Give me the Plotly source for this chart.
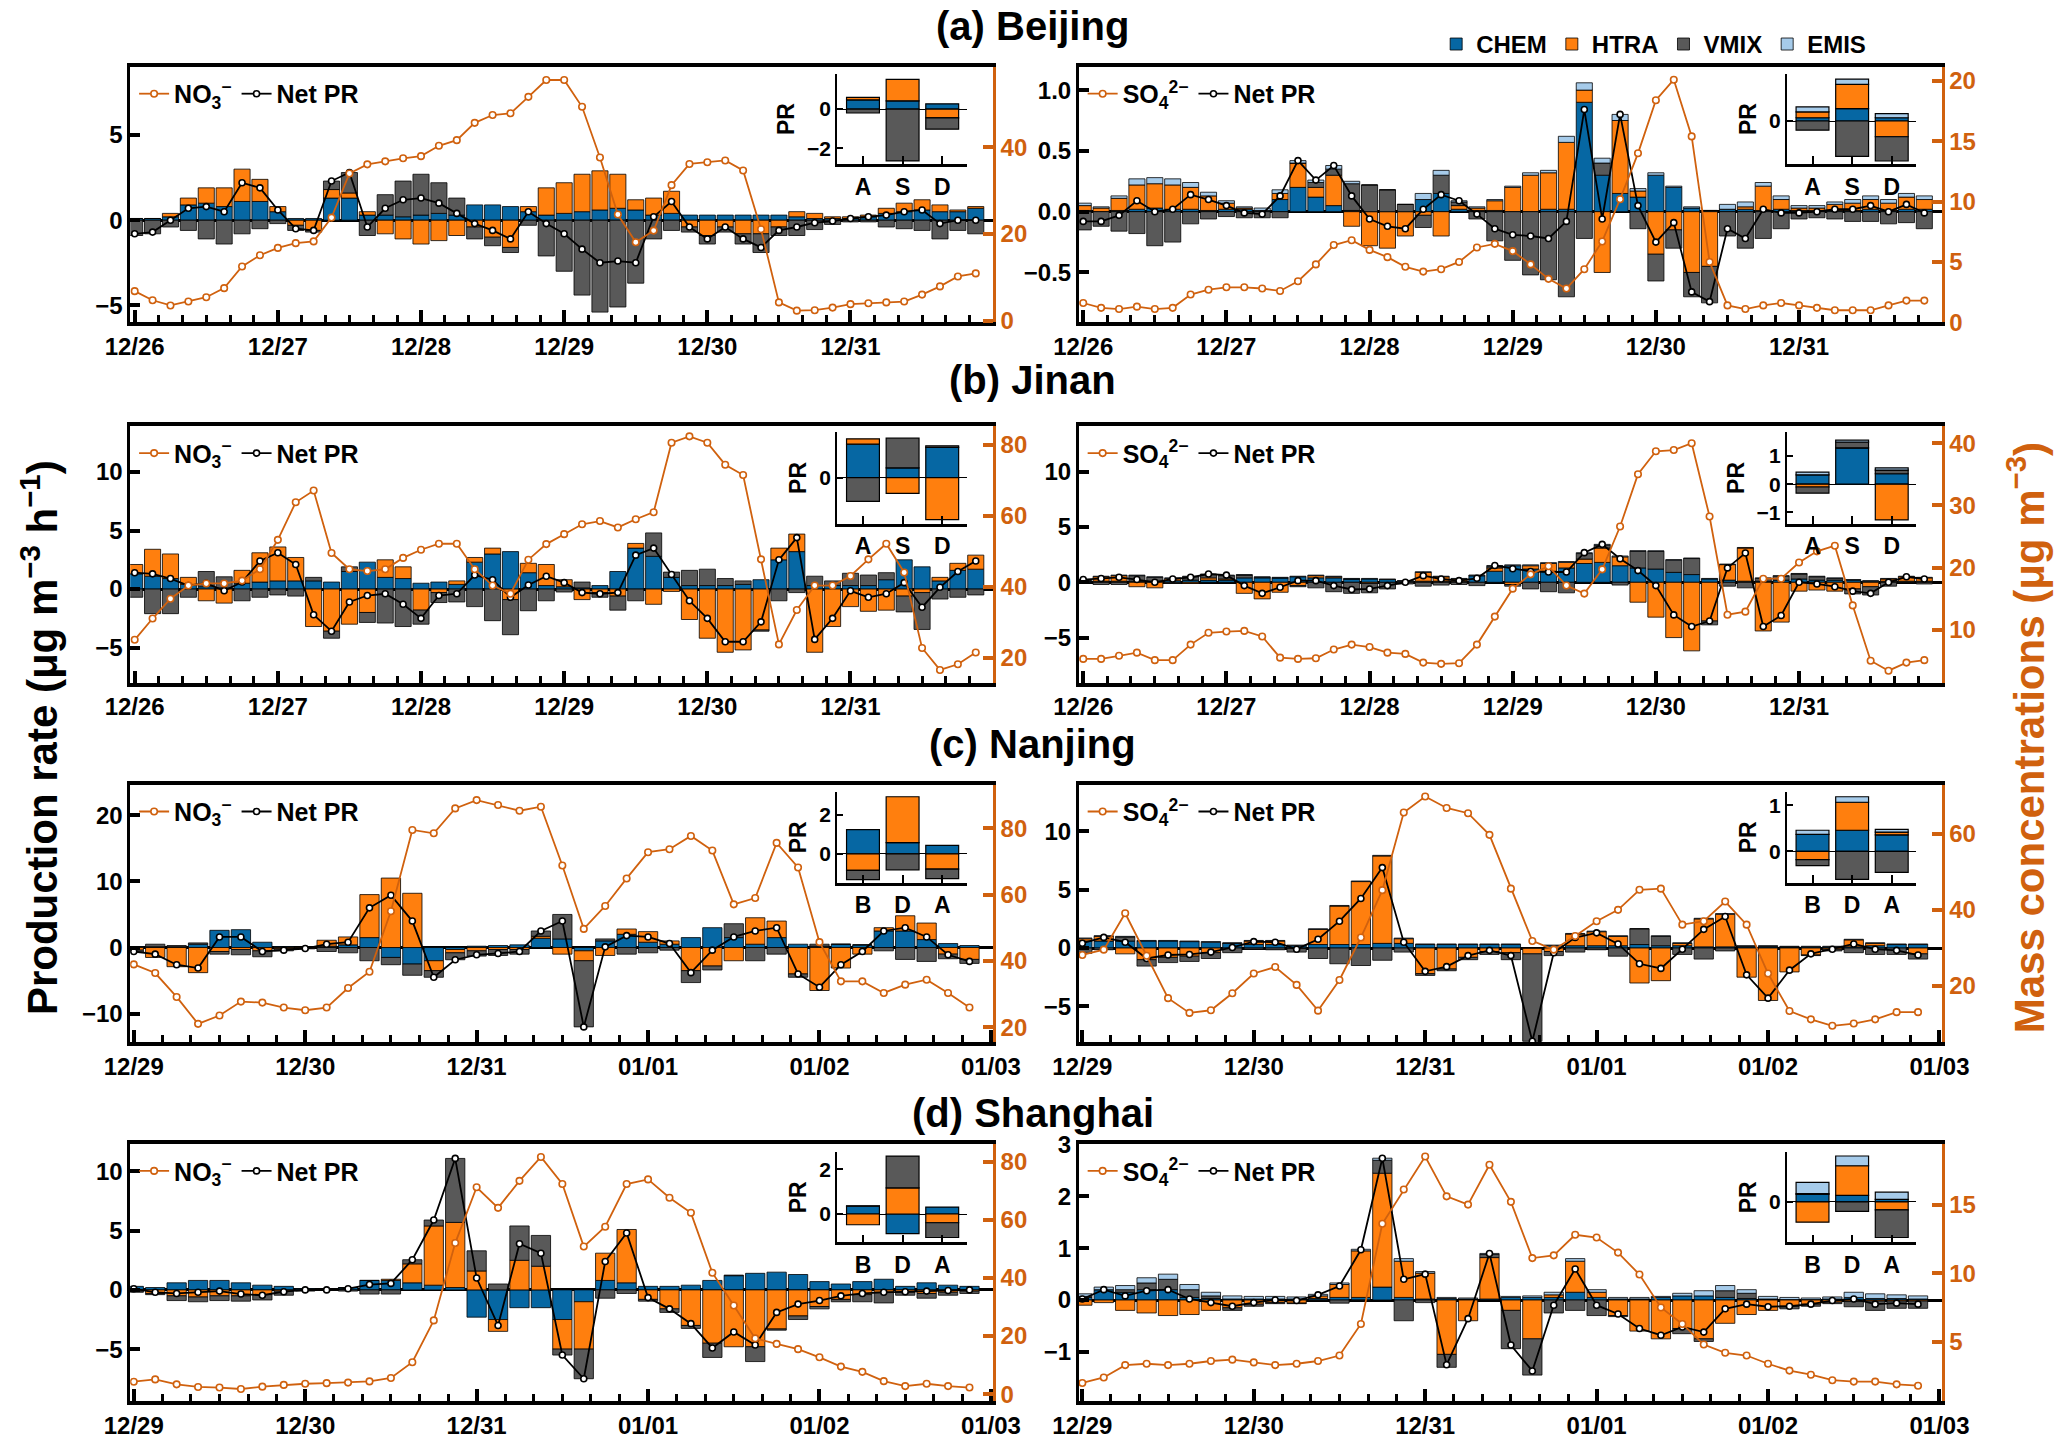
import numpy as np
import pandas as pd
import plotly.graph_objects as go

FONT = "Liberation Sans"
C_CHEM = "#0667a3"
C_HTRA = "#ff7f0e"
C_VMIX = "#595959"
C_EMIS = "#a6cbea"
C_CONC = "#d0610e"

HOUR = 3600 * 1000
W, H = 2067, 1441

# 3-hourly samples
t_bj = pd.date_range("2016-12-26", periods=48, freq="3h")
t_nj = pd.date_range("2016-12-29", periods=40, freq="3h")

NO3 = "NO<sub>3</sub><sup>−</sup>"
SO4 = "SO<sub>4</sub><sup>2−</sup>"

# ---------------- (a) Beijing ----------------
bj_no3_chem = [0.1, 0.1, 0.2, 0.9, 1.0, 0.8, 1.1, 1.1, 0.5, 0.1,
               0.1, 1.3, 1.3, 0.3, 0.3, 0.2, 0.3, 0.4, 0.3, 0.9,
               0.9, 0.8, 0.5, 0.3, 0.4, 0.5, 0.6, 0.7, 0.6, 0.3,
               0.4, 0.3, 0.3, 0.3, 0.3, 0.3, 0.3, 0.2, 0.1, 0.1,
               0.1, 0.2, 0.4, 0.5, 0.6, 0.5, 0.5, 0.7]
bj_no3_htra = [0.0, 0.0, 0.2, 0.4, 0.9, 1.1, 1.9, 1.3, 0.3, -0.3,
               -0.6, 0.5, 0.3, 0.2, -0.8, -1.1, -1.4, -1.2, -0.9, -0.4,
               -1.0, -1.6, 0.3, 1.6, 1.8, 2.2, 2.3, 2.0, 0.6, 1.0,
               1.3, -0.4, -0.9, -0.4, -0.8, -0.8, -0.4, 0.3, 0.3, 0.1,
               0.1, 0.1, 0.3, 0.5, 0.6, 0.4, 0.1, 0.1]
bj_no3_vmix = [-0.9, -0.8, -0.4, -0.6, -1.1, -1.4, -0.8, -0.5, -0.2, -0.3,
               -0.1, 0.5, 1.2, -0.9, 1.2, 2.1, 2.4, 1.8, 1.0, -0.7,
               -0.5, -0.3, -0.3, -2.1, -3.0, -4.4, -5.4, -5.1, -3.7, -1.1,
               -0.6, -0.3, -0.5, -0.3, -0.6, -1.1, -0.5, -0.9, -0.55, -0.25,
               -0.1, -0.1, -0.4, -0.5, -0.6, -1.1, -0.6, -0.8]
bj_no3_conc = [6.8, 4.7, 3.5, 4.4, 5.4, 7.5, 12.5, 15.1, 16.8, 17.9,
               18.3, 23.8, 34.0, 36.1, 36.8, 37.5, 38.0, 40.4, 41.7, 45.7,
               47.5, 47.9, 51.7, 55.6, 55.6, 49.4, 37.7, 24.5, 18.1, 20.8,
               31.3, 36.2, 36.6, 37.0, 34.7, 21.1, 4.2, 2.3, 2.4, 3.0,
               3.8, 4.0, 4.2, 4.4, 6.0, 7.9, 10.2, 10.9]

bj_so4_chem = [0.01, 0.0, 0.01, 0.02, 0.03, 0.02, 0.02, 0.01, 0.02, 0.02,
               0.01, 0.1, 0.2, 0.12, 0.05, 0.01, 0.0, 0.0, 0.0, 0.1,
               0.15, 0.02, 0.01, 0.01, 0.0, 0.0, 0.02, 0.02, 0.9, 0.3,
               0.15, 0.12, 0.3, 0.2, 0.03, 0.01, 0.02, 0.02, 0.01, 0.02,
               0.01, 0.01, 0.01, 0.01, 0.02, 0.01, 0.02, 0.02]
bj_so4_htra = [0.04, 0.03, 0.1, 0.2, 0.2, 0.2, 0.18, 0.12, 0.05, 0.01,
               0.0, 0.05, 0.2, 0.08, 0.25, -0.12, -0.28, -0.3, -0.2, -0.03,
               -0.2, 0.03, 0.02, 0.08, 0.2, 0.3, 0.3, 0.55, 0.1, -0.5,
               0.6, 0.05, -0.35, -0.15, -0.5, -0.45, 0.0, 0.02, 0.2, 0.08,
               0.02, 0.02, 0.05, 0.06, 0.08, 0.06, 0.1, 0.08]
bj_so4_vmix = [-0.15, -0.12, -0.16, -0.18, -0.28, -0.25, -0.1, -0.06, -0.04, -0.05,
               -0.05, -0.05, 0.0, 0.04, 0.05, 0.22, 0.22, 0.18, 0.06, -0.1,
               0.15, 0.03, -0.06, -0.24, -0.4, -0.52, -0.56, -0.7, -0.22, 0.1,
               0.0, -0.14, -0.22, -0.15, -0.2, -0.3, -0.2, -0.3, -0.22, -0.14,
               -0.06, -0.05, -0.06, -0.08, -0.08, -0.1, -0.09, -0.14]
bj_so4_emis = [0.02, 0.01, 0.02, 0.05, 0.05, 0.05, 0.04, 0.03, 0.02, 0.01,
               0.02, 0.03, 0.02, 0.02, 0.03, 0.02, 0.0, 0.0, 0.0, 0.05,
               0.04, 0.01, 0.01, 0.01, 0.01, 0.02, 0.02, 0.05, 0.06, 0.04,
               0.05, 0.02, 0.02, 0.01, 0.01, 0.0, 0.04, 0.04, 0.03, 0.03,
               0.02, 0.02, 0.02, 0.03, 0.03, 0.03, 0.03, 0.03]
bj_so4_conc = [1.6, 1.2, 1.1, 1.3, 1.1, 1.2, 2.3, 2.7, 2.9, 2.9,
               2.8, 2.6, 3.4, 4.8, 6.4, 6.8, 6.0, 5.4, 4.6, 4.2,
               4.4, 5.0, 6.2, 6.5, 5.9, 4.8, 3.6, 2.8, 4.4, 6.7,
               10.2, 14.0, 18.4, 20.1, 15.4, 5.0, 1.4, 1.1, 1.4, 1.6,
               1.4, 1.2, 1.0, 1.0, 1.0, 1.4, 1.8, 1.8]

# ---------------- (b) Jinan ----------------
jn_no3_chem = [1.3, 1.1, 0.9, 0.4, 0.2, 0.1, 0.5, 0.6, 0.7, 0.7,
               0.7, 0.6, 1.5, 2.3, 1.0, 0.9, 0.5, 0.6, 0.4, 2.3,
               3.0, 3.2, 1.4, 0.3, 0.2, 0.1, 0.3, 1.5, 3.5, 2.8,
               1.0, 0.3, 0.3, 0.3, 0.4, 0.8, 2.5, 3.2, 0.3, 0.3,
               0.3, 0.3, 0.8, 2.5, 1.9, 0.7, 1.6, 1.7]
jn_no3_htra = [0.8, 2.3, 2.1, 0.6, -1.0, -1.2, 1.1, 2.5, 2.9, 2.0,
               -3.2, -3.6, -3.0, -2.0, 1.5, 1.0, -1.8, -0.3, 0.3, 0.4,
               0.5, -0.9, 0.8, 1.8, 0.6, -0.9, -0.3, -0.6, 0.4, -1.3,
               -0.2, -2.6, -4.2, -5.4, -5.2, -3.5, 1.0, 1.5, -5.4, -3.2,
               -1.5, -1.9, -1.8, -0.6, -0.3, 0.3, 0.6, 1.2]
jn_no3_vmix = [-0.7, -2.1, -2.1, -0.7, 1.3, 0.95, -1.0, -0.7, -0.5, -0.6,
               0.3, -0.6, 0.4, -0.85, -2.9, -3.2, -1.2, -0.85, -1.1, -1.5,
               -2.7, -3.0, -1.85, -1.0, -0.25, 0.5, -0.4, -1.2, -1.0, 2.0,
               0.45, 1.3, 1.4, 0.6, 0.3, -0.1, -1.0, -0.3, 0.8, 0.4,
               1.05, 0.9, 0.6, -1.35, -3.15, -0.85, -0.7, -0.5]
jn_no3_conc = [25.0, 31.0, 36.6, 40.3, 40.9, 40.9, 41.7, 44.9, 53.2, 63.8,
               67.1, 49.5, 44.9, 44.4, 44.9, 48.1, 50.4, 52.1, 52.1, 44.9,
               40.3, 38.0, 47.6, 52.0, 54.8, 57.6, 58.5, 56.7, 59.0, 61.0,
               80.6, 82.4, 80.6, 74.4, 71.5, 47.7, 23.7, 33.4, 40.3, 40.3,
               43.0, 47.7, 52.1, 44.0, 22.7, 16.5, 18.1, 21.4]

jn_so4_chem = [0.1, 0.1, 0.1, 0.1, 0.1, 0.15, 0.2, 0.2, 0.2, 0.4,
               0.4, 0.4, 0.5, 0.4, 0.4, 0.3, 0.3, 0.25, 0.1, 0.1,
               0.1, 0.1, 0.6, 1.0, 1.5, 1.2, 1.0, 1.3, 1.7, 1.8,
               1.5, 1.3, 1.2, 0.9, 0.7, 0.3, 0.2, 0.1, 0.1, 0.2,
               0.3, 0.2, 0.2, 0.2, 0.1, 0.1, 0.1, 0.1]
jn_so4_htra = [0.0, 0.4, 0.5, -0.4, -0.5, 0.2, -0.1, 0.2, 0.1, -1.0,
               -1.5, -0.9, -0.3, 0.2, 0.1, 0.0, -0.1, 0.0, 0.0, 0.8,
               0.4, 0.2, 0.0, 0.3, -0.2, 0.3, 0.7, 0.5, 0.4, 1.3,
               0.8, -1.8, -3.15, -5.0, -6.2, -3.5, 1.4, 3.0, -4.4, -3.6,
               -0.8, -0.7, -0.8, -0.6, -0.4, 0.2, 0.4, 0.3]
jn_so4_vmix = [0.1, -0.2, -0.2, 0.5, 0.35, -0.1, 0.3, 0.3, 0.3, 0.25,
               0.05, 0.0, -0.1, -0.5, -0.85, -1.0, -0.85, -0.6, -0.15, -0.35,
               -0.25, -0.2, -0.3, 0.15, -0.15, -0.6, -0.85, -0.95, 0.5, 0.25,
               -0.25, 1.5, 1.6, 1.1, 1.45, -0.35, -0.35, -0.5, 0.25, 0.35,
               0.45, 0.3, 0.15, -0.45, -0.75, -0.35, -0.05, -0.15]
jn_so4_emis = [0.05, 0.05, 0.05, 0.05, 0.05, 0.05, 0.05, 0.05, 0.05, 0.05,
               0.05, 0.05, 0.05, 0.05, 0.05, 0.05, 0.05, 0.05, 0.05, 0.05,
               0.05, 0.05, 0.06, 0.07, 0.08, 0.08, 0.08, 0.08, 0.08, 0.08,
               0.08, 0.06, 0.05, 0.05, 0.05, 0.05, 0.05, 0.05, 0.05, 0.05,
               0.05, 0.05, 0.05, 0.05, 0.05, 0.05, 0.05, 0.05]
jn_so4_conc = [5.3, 5.3, 5.8, 6.3, 5.1, 5.1, 7.6, 9.5, 9.7, 9.8,
               8.9, 5.5, 5.3, 5.4, 6.8, 7.6, 7.2, 6.3, 6.1, 4.7,
               4.5, 4.6, 7.6, 12.1, 16.6, 18.9, 20.2, 17.1, 15.8, 19.7,
               26.6, 35.0, 38.7, 38.9, 40.0, 28.2, 12.4, 12.9, 18.2, 18.2,
               20.8, 22.6, 23.5, 13.9, 5.0, 3.4, 4.7, 5.1]

# ---------------- (c) Nanjing ----------------
nj_no3_chem = [0.1, 0.1, 0.1, 0.5, 2.6, 2.7, 0.8, 0.1, 0.05, 0.2,
               0.4, 1.5, -1.5, -2.5, -2.0, -0.3, 0.2, 0.3, 0.4, 1.4,
               1.3, -0.5, 1.0, 2.0, 0.8, 0.5, 1.5, 3.0, 1.5, 0.5,
               1.5, 0.5, 0.2, 0.5, 0.4, 2.5, 2.5, 1.2, 0.6, 0.3]
nj_no3_htra = [-0.4, -1.5, -2.9, -3.8, -0.6, -0.3, -0.5, -0.2, -0.1, 0.9,
               1.2, 6.5, 10.5, 8.2, -1.5, -0.5, -0.5, -0.3, -0.3, 0.3,
               -1.0, -1.5, -1.2, 0.8, 1.6, 0.5, -3.5, -2.8, -2.0, 4.0,
               2.5, -4.0, -6.5, -3.1, -1.0, 0.5, 2.3, 2.5, -1.0, -1.8]
nj_no3_vmix = [-0.3, 0.4, 0.2, 0.2, -0.4, -0.8, -0.9, -0.3, -0.1, -0.6,
               -0.8, -2.0, -1.1, -1.7, -1.0, -1.05, -0.8, -0.9, -0.7, 0.8,
               3.7, -10.0, 0.3, -1.0, -0.8, -0.4, -1.8, -0.6, 2.1, -2.0,
               -1.0, -0.5, 0.3, 0.0, 0.0, -0.5, -1.8, -2.1, -0.7, -0.6]
nj_no3_conc = [39.0, 36.4, 29.2, 21.1, 23.6, 27.8, 27.5, 26.0, 25.2, 26.0,
               31.9, 36.8, 55.0, 79.5, 78.5, 86.0, 88.5, 87.0, 85.3, 86.5,
               68.8, 49.7, 56.6, 64.9, 72.8, 73.7, 77.7, 73.3, 57.1, 59.0,
               75.6, 68.2, 45.7, 33.9, 33.9, 30.4, 32.9, 34.4, 30.4, 26.0]

nj_so4_chem = [0.6, 0.6, 0.6, 0.6, 0.6, 0.55, 0.5, 0.4, 0.3, 0.3,
               0.2, 0.3, 0.3, 0.3, 0.4, 0.4, 0.3, 0.3, 0.3, 0.3,
               0.3, 0.0, 0.2, 0.2, 0.2, 0.2, 0.3, 0.2, 0.2, 0.1,
               0.1, 0.1, 0.1, 0.1, 0.1, 0.1, 0.1, 0.2, 0.3, 0.3]
nj_so4_htra = [0.2, 0.4, -0.5, -1.0, -0.8, -0.7, -0.4, 0.0, 0.3, 0.3,
               -0.05, 1.3, 3.3, 5.4, 7.5, 0.4, -2.2, -1.8, -0.8, -0.3,
               -0.4, -0.5, -0.3, 1.0, 1.2, 0.8, -3.0, -2.8, 0.2, 2.4,
               2.8, -2.5, -4.5, -2.05, -0.6, -0.1, 0.6, 0.2, 0.0, -0.5]
nj_so4_vmix = [-0.45, -0.15, 0.35, -0.55, -0.45, -0.45, -0.5, -0.4, -0.1, -0.15,
               -0.3, -0.9, -1.35, -1.5, -1.05, -0.35, -0.15, -0.15, -0.2, -0.25,
               -0.6, -7.5, -0.35, -0.35, -0.15, -0.7, 1.35, 0.8, -0.55, -0.95,
               -0.25, 0.05, 0.05, 0.0, -0.05, -0.15, -0.4, -0.55, -0.55, -0.45]
nj_so4_emis = [0.06, 0.06, 0.05, 0.05, 0.05, 0.05, 0.05, 0.05, 0.05, 0.05,
               0.05, 0.05, 0.05, 0.05, 0.05, 0.05, 0.05, 0.05, 0.05, 0.05,
               0.05, 0.0, 0.05, 0.05, 0.05, 0.05, 0.0, 0.05, 0.05, 0.05,
               0.05, 0.05, 0.05, 0.05, 0.05, 0.05, 0.05, 0.05, 0.05, 0.05]
nj_so4_conc = [28.1, 29.5, 39.1, 27.9, 16.7, 12.8, 13.5, 18.0, 23.2, 24.9,
               20.2, 13.4, 21.5, 32.7, 45.2, 65.7, 69.9, 66.9, 65.5, 59.8,
               45.6, 31.8, 29.5, 33.1, 37.0, 40.0, 45.3, 45.6, 36.1, 37.0,
               42.2, 36.1, 23.2, 13.3, 11.1, 9.4, 10.0, 11.1, 13.0, 13.0]

# ---------------- (d) Shanghai ----------------
sh_no3_chem = [0.3, 0.2, 0.6, 0.8, 0.8, 0.6, 0.4, 0.3, 0.1, 0.05,
               0.2, 0.8, 0.8, 0.6, 0.4, 0.2, -2.3, -2.5, -1.5, -1.5,
               -2.5, -1.0, 0.8, 0.6, 0.3, 0.3, 0.4, 0.8, 1.2, 1.4,
               1.5, 1.3, 0.7, 0.5, 0.7, 0.9, 0.3, 0.6, 0.4, 0.3]
sh_no3_htra = [-0.1, -0.3, -0.5, -0.6, -0.5, -0.5, -0.4, -0.1, -0.05, 0.0,
               0.0, 0.0, 0.1, 1.6, 5.0, 5.5, 1.6, -1.0, 2.5, 2.0,
               -2.5, -4.0, 2.3, 4.5, -0.8, -1.6, -3.0, -4.5, -4.8, -4.8,
               -3.3, -2.2, -1.4, -0.8, -0.4, -0.2, -0.2, -0.3, -0.2, -0.1]
sh_no3_vmix = [-0.1, -0.1, -0.4, -0.4, -0.4, -0.45, -0.45, -0.35, -0.05, -0.05,
               -0.1, -0.35, -0.35, 0.35, 0.5, 5.4, 1.7, 0.5, 2.9, 2.6,
               -0.5, -2.5, -0.7, -0.3, -0.15, -0.3, -0.25, -1.2, 0.05, -1.25,
               -0.1, -0.3, -0.2, -0.2, -0.6, -0.9, -0.25, -0.4, -0.25, -0.2]
sh_no3_conc = [4.3, 5.1, 3.4, 2.5, 2.3, 1.8, 2.6, 3.2, 3.6, 3.8,
               4.0, 4.4, 5.6, 11.0, 25.4, 52.0, 71.2, 64.1, 73.4, 81.6,
               72.3, 50.8, 57.6, 72.3, 73.9, 67.6, 62.4, 41.8, 30.5, 19.2,
               17.3, 15.5, 12.7, 9.5, 7.7, 4.5, 2.8, 3.6, 2.8, 2.3]

sh_so4_chem = [0.05, 0.2, 0.15, 0.2, 0.2, 0.05, 0.03, 0.02, 0.02, 0.02,
               0.02, 0.03, 0.05, 0.05, 0.25, 0.05, 0.02, 0.03, 0.01, 0.02,
               0.05, 0.05, 0.05, 0.15, 0.05, 0.02, 0.02, 0.05, 0.08, 0.08,
               0.05, 0.03, 0.02, 0.01, 0.01, 0.02, 0.05, 0.03, 0.03, 0.02]
sh_so4_htra = [-0.1, -0.05, -0.2, -0.25, -0.3, -0.28, -0.2, -0.15, -0.08, -0.05,
               -0.06, 0.05, 0.25, 0.9, 2.2, 0.7, 0.5, -1.05, -0.4, 0.8,
               -0.2, -0.75, 0.05, 0.6, 0.1, -0.3, -0.6, -0.75, -0.55, -0.75,
               -0.45, -0.28, -0.2, -0.12, -0.08, -0.04, -0.03, -0.02, -0.02, -0.02]
sh_so4_vmix = [0.02, 0.0, 0.05, 0.13, 0.2, 0.15, 0.05, -0.05, -0.04, -0.02,
               -0.01, -0.01, -0.06, -0.01, 0.25, -0.4, -0.05, -0.25, 0.01, 0.06,
               -0.74, -0.7, -0.25, -0.2, -0.3, -0.02, 0.0, 0.0, -0.1, -0.05,
               0.13, 0.1, 0.0, -0.05, -0.04, -0.03, -0.1, -0.18, -0.14, -0.14]
sh_so4_emis = [0.05, 0.05, 0.08, 0.1, 0.1, 0.1, 0.07, 0.06, 0.05, 0.05,
               0.04, 0.03, 0.03, 0.03, 0.04, 0.05, 0.03, 0.02, 0.02, 0.02,
               0.02, 0.03, 0.05, 0.05, 0.05, 0.03, 0.03, 0.02, 0.05, 0.1,
               0.1, 0.07, 0.05, 0.04, 0.03, 0.04, 0.1, 0.09, 0.07, 0.06]
sh_so4_conc = [2.0, 2.4, 3.3, 3.4, 3.3, 3.4, 3.6, 3.7, 3.5, 3.3,
               3.4, 3.6, 4.0, 6.3, 13.6, 16.1, 18.5, 15.6, 15.0, 17.9,
               15.2, 11.1, 11.3, 12.8, 12.6, 11.5, 9.9, 7.5, 6.3, 4.8,
               4.2, 4.0, 3.4, 2.9, 2.6, 2.2, 2.1, 2.1, 1.9, 1.8]

# ---------------- inset (period mean PR) ----------------
ins_asd = ["A", "S", "D"]
ins_bda = ["B", "D", "A"]
bj_no3_ins = dict(chem=[0.47, 0.42, 0.27], htra=[0.13, 1.1, -0.45], vmix=[-0.2, -2.65, -0.58])
bj_so4_ins = dict(chem=[0.033, 0.127, 0.033], htra=[0.06, 0.247, -0.16],
                  vmix=[-0.093, -0.36, -0.247], emis=[0.05, 0.053, 0.043])
jn_no3_ins = dict(chem=[1.02, 0.3, 0.92], htra=[0.16, -0.48, -1.28], vmix=[-0.72, 0.9, 0.05])
jn_so4_ins = dict(chem=[0.33, 1.29, 0.37], htra=[-0.1, 0.0, -1.27],
                  vmix=[-0.22, 0.2, 0.13], emis=[0.1, 0.07, 0.08])
nj_no3_ins = dict(chem=[1.25, 0.58, 0.44], htra=[-0.85, 2.36, -0.79], vmix=[-0.48, -0.82, -0.48])
nj_so4_ins = dict(chem=[0.37, 0.46, 0.36], htra=[-0.18, 0.61, 0.06],
                  vmix=[-0.13, -0.61, -0.46], emis=[0.09, 0.12, 0.06])
sh_no3_ins = dict(chem=[0.35, -0.88, 0.31], htra=[-0.48, 1.17, -0.39], vmix=[0.02, 1.42, -0.66])
sh_so4_ins = dict(chem=[0.23, 0.2, 0.08], htra=[-0.62, 0.91, -0.24],
                  vmix=[0.03, -0.29, -0.85], emis=[0.34, 0.3, 0.22])

panels = [
    dict(t=t_bj, chem=bj_no3_chem, htra=bj_no3_htra, vmix=bj_no3_vmix, emis=None, conc=bj_no3_conc,
         sp=NO3, yr=[-6, 9], yt=[-5, 0, 5], yf="", cr=[-0.4, 58.6], ct=[0, 20, 40],
         ins=bj_no3_ins, il=ins_asd, iyr=[-2.82, 1.8], iyt=[-2, 0]),
    dict(t=t_bj, chem=bj_so4_chem, htra=bj_so4_htra, vmix=bj_so4_vmix, emis=bj_so4_emis, conc=bj_so4_conc,
         sp=SO4, yr=[-0.91, 1.19], yt=[-0.5, 0, 0.5, 1.0], yf=".1f", cr=[0, 21.15], ct=[0, 5, 10, 15, 20],
         ins=bj_so4_ins, il=ins_asd, iyr=[-0.44, 0.48], iyt=[0]),
    dict(t=t_bj, chem=jn_no3_chem, htra=jn_no3_htra, vmix=jn_no3_vmix, emis=None, conc=jn_no3_conc,
         sp=NO3, yr=[-8.0, 13.9], yt=[-5, 0, 5, 10], yf="", cr=[12.9, 85.2], ct=[20, 40, 60, 80],
         ins=jn_no3_ins, il=ins_asd, iyr=[-1.4, 1.38], iyt=[0]),
    dict(t=t_bj, chem=jn_so4_chem, htra=jn_so4_htra, vmix=jn_so4_vmix, emis=jn_so4_emis, conc=jn_so4_conc,
         sp=SO4, yr=[-9.08, 14.1], yt=[-5, 0, 5, 10], yf="", cr=[1.47, 42.7], ct=[10, 20, 30, 40],
         ins=jn_so4_ins, il=ins_asd, iyr=[-1.4, 1.84], iyt=[-1, 0, 1]),
    dict(t=t_nj, chem=nj_no3_chem, htra=nj_no3_htra, vmix=nj_no3_vmix, emis=None, conc=nj_no3_conc,
         sp=NO3, yr=[-14.3, 24.6], yt=[-10, 0, 10, 20], yf="", cr=[15.6, 93.1], ct=[20, 40, 60, 80],
         ins=nj_no3_ins, il=ins_bda, iyr=[-1.5, 3.2], iyt=[0, 2]),
    dict(t=t_nj, chem=nj_so4_chem, htra=nj_so4_htra, vmix=nj_so4_vmix, emis=nj_so4_emis, conc=nj_so4_conc,
         sp=SO4, yr=[-8.07, 14.0], yt=[-5, 0, 5, 10], yf="", cr=[5.1, 73.0], ct=[20, 40, 60],
         ins=nj_so4_ins, il=ins_bda, iyr=[-0.69, 1.3], iyt=[0, 1]),
    dict(t=t_nj, chem=sh_no3_chem, htra=sh_no3_htra, vmix=sh_no3_vmix, emis=None, conc=sh_no3_conc,
         sp=NO3, yr=[-9.42, 12.3], yt=[-5, 0, 5, 10], yf="", cr=[-2.5, 86.0], ct=[0, 20, 40, 60, 80],
         ins=sh_no3_ins, il=ins_bda, iyr=[-1.27, 2.77], iyt=[0, 2]),
    dict(t=t_nj, chem=sh_so4_chem, htra=sh_so4_htra, vmix=sh_so4_vmix, emis=sh_so4_emis, conc=sh_so4_conc,
         sp=SO4, yr=[-1.96, 3.01], yt=[-1, 0, 1, 2, 3], yf="", cr=[0.65, 19.4], ct=[5, 10, 15],
         ins=sh_so4_ins, il=ins_bda, iyr=[-1.24, 1.53], iyt=[0]),
]

# layout geometry in pixels of the 2067x1441 canvas
COL_X = [(107, 993), (1081, 1967)]
ROW_Y = [(55, 315), (421, 682), (786, 1048), (1152, 1414)]
INS_X = [(833, 966), (1808, 1941)]
INS_Y = [(62, 154), (427, 520), (793, 886), (1160, 1252)]
TITLES = ["(a) Beijing", "(b) Jinan", "(c) Nanjing", "(d) Shanghai"]
TITLE_Y = [13, 374, 744, 1120]


def dx(a, b):
    return [a / W, b / W]


def dy(a, b):
    return [1 - b / H, 1 - a / H]


def aid(c, n):
    return c if n == 1 else f"{c}{n}"


def akey(c, n):
    return f"{c}axis" if n == 1 else f"{c}axis{n}"


fig = go.Figure()
layout = {}

for p, s in enumerate(panels):
    row, col = p // 2, p % 2
    xa, ya, yc, xi, yi = p + 1, p + 1, p + 9, p + 9, p + 17
    x_id, y_id, c_id = aid("x", xa), aid("y", ya), aid("y", yc)
    xi_id, yi_id = aid("x", xi), aid("y", yi)

    comps = [("CHEM", s["chem"], C_CHEM), ("HTRA", s["htra"], C_HTRA), ("VMIX", s["vmix"], C_VMIX)]
    if s["emis"] is not None:
        comps.append(("EMIS", s["emis"], C_EMIS))

    # stacked process bars
    for name, vals, color in comps:
        show = (p == 0) or (p == 1 and name == "EMIS")
        fig.add_trace(go.Bar(
            x=s["t"], y=vals, width=2.7 * HOUR, name=name,
            marker=dict(color=color, line=dict(color="black", width=0.8)),
            xaxis=x_id, yaxis=y_id, showlegend=show, legend="legend"))

    net = np.sum([np.array(v) for _, v, _ in comps], axis=0)

    fig.add_trace(go.Scatter(
        x=s["t"], y=s["conc"], mode="lines+markers", name=s["sp"],
        line=dict(color=C_CONC, width=1.8),
        marker=dict(symbol="circle", size=6.5, color="white", line=dict(color=C_CONC, width=1.6)),
        xaxis=x_id, yaxis=c_id, legend=f"legend{p + 2}"))
    fig.add_trace(go.Scatter(
        x=s["t"], y=net, mode="lines+markers", name="Net PR",
        line=dict(color="black", width=1.8),
        marker=dict(symbol="circle", size=6, color="white", line=dict(color="black", width=1.6)),
        xaxis=x_id, yaxis=y_id, legend=f"legend{p + 2}"))

    # inset bars
    ins = s["ins"]
    ins_comps = [("CHEM", ins["chem"], C_CHEM), ("HTRA", ins["htra"], C_HTRA), ("VMIX", ins["vmix"], C_VMIX)]
    if "emis" in ins:
        ins_comps.append(("EMIS", ins["emis"], C_EMIS))
    for name, vals, color in ins_comps:
        fig.add_trace(go.Bar(
            x=[0, 1, 2], y=vals, width=0.83, name=name, showlegend=False,
            marker=dict(color=color, line=dict(color="black", width=1.2)),
            xaxis=xi_id, yaxis=yi_id))

    t0 = s["t"][0]
    span = 143.9 if len(s["t"]) == 48 else 120.3
    lead = 0.75 if len(s["t"]) == 48 else 0.5
    xr = [t0 - pd.Timedelta(hours=lead), t0 + pd.Timedelta(hours=span)]

    layout[akey("x", xa)] = dict(
        domain=dx(*COL_X[col]), anchor=y_id, type="date", range=xr,
        tickformat="%m/%d", dtick=86400000, ticks="inside", ticklen=12, tickwidth=3.5,
        tickcolor="black", minor=dict(dtick=4 * HOUR, ticks="inside", ticklen=7,
                                      tickwidth=3, tickcolor="black"),
        showline=True, linewidth=4, linecolor="black", mirror=True,
        showgrid=False, zeroline=False, tickfont=dict(size=24))
    layout[akey("y", ya)] = dict(
        domain=dy(*ROW_Y[row]), anchor=x_id, range=s["yr"], tickvals=s["yt"],
        tickformat=s["yf"], ticks="inside", ticklen=10, tickwidth=4, tickcolor="black",
        showline=True, linewidth=2.5, linecolor="black", showgrid=False,
        zeroline=True, zerolinecolor="black", zerolinewidth=2.5, tickfont=dict(size=24))
    layout[akey("y", yc)] = dict(
        overlaying=y_id, anchor=x_id, side="right", range=s["cr"], tickvals=s["ct"],
        ticks="inside", ticklen=10, tickwidth=4, tickcolor=C_CONC,
        showline=True, linewidth=2.5, linecolor=C_CONC, showgrid=False, zeroline=False,
        tickfont=dict(size=24, color=C_CONC))
    layout[akey("x", xi)] = dict(
        domain=dx(*INS_X[col]), anchor=yi_id, range=[-0.65, 2.62], tickvals=[0, 1, 2],
        ticktext=s["il"], ticks="inside", ticklen=8, tickwidth=2, tickcolor="black",
        showline=True, linewidth=2.5, linecolor="black", showgrid=False, zeroline=False,
        tickfont=dict(size=23))
    layout[akey("y", yi)] = dict(
        domain=dy(*INS_Y[row]), anchor=xi_id, range=s["iyr"], tickvals=s["iyt"],
        ticks="inside", ticklen=6, tickwidth=2, tickcolor="black",
        showline=True, linewidth=2, linecolor="black", showgrid=False,
        zeroline=True, zerolinecolor="black", zerolinewidth=1.3,
        title=dict(text="PR", font=dict(size=23), standoff=6), tickfont=dict(size=21))

    layout[f"legend{p + 2}"] = dict(
        x=(COL_X[col][0] + 4) / W, y=1 - (ROW_Y[row][0] + 4) / H, xanchor="left", yanchor="top",
        orientation="h", bgcolor="rgba(0,0,0,0)", font=dict(size=25), itemwidth=30,
        tracegroupgap=0)

annotations = []
for r in range(4):
    annotations.append(dict(text=TITLES[r], x=0.5, y=1 - TITLE_Y[r] / H, xref="paper", yref="paper",
                            showarrow=False, font=dict(size=40), xanchor="center", yanchor="middle"))
annotations.append(dict(text="Production rate (μg m<sup>−3</sup> h<sup>−1</sup>)", x=-16 / W,
                        y=1 - 738 / H, xref="paper", yref="paper", showarrow=False, textangle=-90,
                        font=dict(size=42), xanchor="left", yanchor="middle"))
annotations.append(dict(text="Mass concentrations (μg m<sup>−3</sup>)", x=1 + 16 / W,
                        y=1 - 738 / H, xref="paper", yref="paper", showarrow=False, textangle=-90,
                        font=dict(size=42, color=C_CONC), xanchor="right", yanchor="middle"))

fig.update_layout(
    width=W, height=H, margin=dict(l=0, r=0, t=0, b=0),
    paper_bgcolor="white", plot_bgcolor="white",
    font=dict(family=FONT, size=24, color="black", weight="bold"),
    barmode="relative",
    legend=dict(x=1448 / W, y=1 - 32 / H, xanchor="left", yanchor="middle", orientation="h",
                font=dict(size=24), bgcolor="rgba(0,0,0,0)", itemwidth=30),
    annotations=annotations,
    **layout,
)

fig.write_html("out.html", config={"displayModeBar": False},
               post_script="document.body.style.margin='0';")
